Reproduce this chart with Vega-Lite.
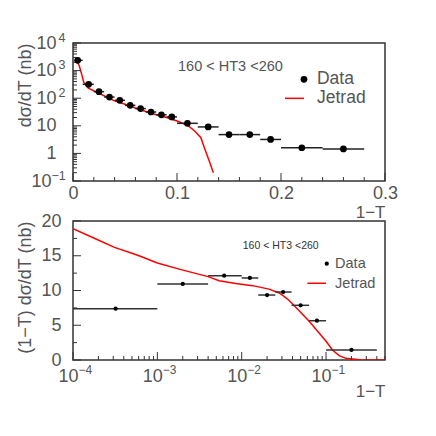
{
  "$schema": "https://vega.github.io/schema/vega-lite/v6.json",
  "background": "white",
  "padding": {"left": 15, "top": 30, "right": 0, "bottom": 0},
  "spacing": -10.5,
  "config": {
    "font": "Liberation Sans",
    "view": {"stroke": "#333", "strokeWidth": 1.5},
    "axis": {
      "domain": false, "grid": false, "ticks": false, "tickSize": 0,
      "labelColor": "#555", "titleColor": "#555",
      "labelFont": "Liberation Sans", "titleFont": "Liberation Sans",
      "labelFontSize": 18, "titleFontSize": 18, "titleFontWeight": "normal",
      "labelFlush": false, "labelOverlap": false, "labelBound": false
    }
  },
  "vconcat": [
    {
      "width": 312, "height": 138,
      "resolve": {"axis": {"x": "independent", "y": "independent"}},
      "layer": [
        {
          "data": {"values": [
            {"x": 0.003, "y": 2500}, {"x": 0.006, "y": 1500}, {"x": 0.0085, "y": 700},
            {"x": 0.0103, "y": 380}, {"x": 0.0147, "y": 230}, {"x": 0.0244, "y": 155},
            {"x": 0.04, "y": 80}, {"x": 0.05, "y": 60}, {"x": 0.06, "y": 44},
            {"x": 0.07, "y": 33}, {"x": 0.08, "y": 25}, {"x": 0.09, "y": 20},
            {"x": 0.1, "y": 15}, {"x": 0.11, "y": 10.5}, {"x": 0.117, "y": 6.5},
            {"x": 0.123, "y": 3.7}, {"x": 0.1263, "y": 1.6}, {"x": 0.131, "y": 0.53},
            {"x": 0.135, "y": 0.2}
          ]},
          "mark": {"type": "line", "color": "#ff0000", "strokeWidth": 1.5, "clip": true},
          "encoding": {
            "x": {"field": "x", "type": "quantitative",
              "scale": {"domain": [0, 0.3], "nice": false, "zero": false},
              "axis": {
                "orient": "bottom",
                "title": "1−T", "titleFontSize": 17, "titleX": 312, "titleY": 31,
                "titleAlign": "right", "titleBaseline": "middle", "titleAngle": 0,
                "values": [0, 0.1, 0.2, 0.3],
                "labelExpr": "datum.value==0 ? '0' : format(datum.value,'.1f')",
                "labelPadding": 12, "labelBaseline": "middle",
                "labelOverlap": false, "labelFlush": false
              }},
            "y": {"field": "y", "type": "quantitative",
              "scale": {"type": "log", "domain": [0.1, 10000], "nice": false},
              "axis": {
                "orient": "left",
                "title": "dσ/dT (nb)", "titleX": -48, "titleY": 0, "titleAngle": 270,
                "titleAlign": "right", "titleBaseline": "middle",
                "values": [0.1, 1, 10, 100, 1000, 10000],
                "labelExpr": "datum.value==1 ? '1' : '10'",
                "labelAlign": "right", "labelBaseline": "middle",
                "labelPadding": {"condition": {"test": "datum.value < 0.5", "value": 22}, "value": 17},
                "labelOverlap": false
              }}
          }
        },
        {
          "data": {"values": [{"lo": 0.2038, "hi": 0.2221, "y": 99}]},
          "mark": {"type": "rule", "color": "#ff0000", "strokeWidth": 1.5},
          "encoding": {
            "x": {"field": "lo", "type": "quantitative", "axis": null},
            "x2": {"field": "hi"},
            "y": {"field": "y", "type": "quantitative", "axis": null}
          }
        },
        {
          "data": {"values": [{"x": 0.2221, "y": 484}]},
          "mark": {"type": "point", "filled": true, "color": "#000", "size": 45, "opacity": 1},
          "encoding": {
            "x": {"field": "x", "type": "quantitative", "axis": null},
            "y": {"field": "y", "type": "quantitative",
              "axis": {"orient": "left", "title": null,
                "values": [0.1, 100, 1000, 10000],
                "labelExpr": "datum.value==10000 ? '4' : datum.value==1000 ? '3' : datum.value==100 ? '2' : '−1'",
                "labelFontSize": 12.5, "labelAlign": "left", "labelBaseline": "middle", "labelOffset": -6,
                "labelPadding": {"condition": {"test": "datum.value < 0.5", "value": 22}, "value": 15},
                "labelOverlap": false}}
          }
        },
        {
          "data": {"values": [{"v": 0}, {"v": 0.1}, {"v": 0.2}, {"v": 0.3}]},
          "mark": {"type": "tick", "orient": "vertical", "size": 8, "thickness": 1, "color": "#333", "opacity": 1, "yOffset": -4},
          "encoding": {"x": {"field": "v", "type": "quantitative", "axis": null}, "y": {"datum": 0.1, "type": "quantitative", "axis": null}}
        },
        {
          "data": {"values": [{"v": 0.02}, {"v": 0.04}, {"v": 0.06}, {"v": 0.08}, {"v": 0.12}, {"v": 0.14}, {"v": 0.16}, {"v": 0.18}, {"v": 0.22}, {"v": 0.24}, {"v": 0.26}, {"v": 0.28}]},
          "mark": {"type": "tick", "orient": "vertical", "size": 4, "thickness": 1, "color": "#333", "opacity": 1, "yOffset": -2},
          "encoding": {"x": {"field": "v", "type": "quantitative", "axis": null}, "y": {"datum": 0.1, "type": "quantitative", "axis": null}}
        },
        {
          "data": {"values": [{"v": 0.1}, {"v": 1}, {"v": 10}, {"v": 100}, {"v": 1000}, {"v": 10000}]},
          "mark": {"type": "tick", "orient": "horizontal", "size": 8, "thickness": 1, "color": "#333", "opacity": 1, "xOffset": 4},
          "encoding": {"y": {"field": "v", "type": "quantitative", "axis": null}, "x": {"datum": 0, "type": "quantitative", "axis": null}}
        },
        {
          "data": {"values": [{"v": 0.2}, {"v": 0.3}, {"v": 0.4}, {"v": 0.5}, {"v": 0.6}, {"v": 0.7}, {"v": 0.8}, {"v": 0.9}, {"v": 2}, {"v": 3}, {"v": 4}, {"v": 5}, {"v": 6}, {"v": 7}, {"v": 8}, {"v": 9}, {"v": 20}, {"v": 30}, {"v": 40}, {"v": 50}, {"v": 60}, {"v": 70}, {"v": 80}, {"v": 90}, {"v": 200}, {"v": 300}, {"v": 400}, {"v": 500}, {"v": 600}, {"v": 700}, {"v": 800}, {"v": 900}, {"v": 2000}, {"v": 3000}, {"v": 4000}, {"v": 5000}, {"v": 6000}, {"v": 7000}, {"v": 8000}, {"v": 9000}]},
          "mark": {"type": "tick", "orient": "horizontal", "size": 4, "thickness": 1, "color": "#333", "opacity": 1, "xOffset": 2},
          "encoding": {"y": {"field": "v", "type": "quantitative", "axis": null}, "x": {"datum": 0, "type": "quantitative", "axis": null}}
        },
        {
          "data": {"values": [
            {"x": 0.0045, "lo": 0.0013, "hi": 0.0093, "y": 2350},
            {"x": 0.015, "lo": 0.0093, "hi": 0.02, "y": 318},
            {"x": 0.025, "lo": 0.02, "hi": 0.03, "y": 172},
            {"x": 0.035, "lo": 0.03, "hi": 0.04, "y": 110},
            {"x": 0.045, "lo": 0.04, "hi": 0.05, "y": 84},
            {"x": 0.055, "lo": 0.05, "hi": 0.06, "y": 55},
            {"x": 0.065, "lo": 0.06, "hi": 0.07, "y": 42},
            {"x": 0.075, "lo": 0.07, "hi": 0.08, "y": 31.6},
            {"x": 0.085, "lo": 0.08, "hi": 0.09, "y": 25},
            {"x": 0.095, "lo": 0.09, "hi": 0.1, "y": 21},
            {"x": 0.11, "lo": 0.1, "hi": 0.12, "y": 12.3},
            {"x": 0.13, "lo": 0.12, "hi": 0.14, "y": 9.1},
            {"x": 0.15, "lo": 0.14, "hi": 0.16, "y": 4.8},
            {"x": 0.17, "lo": 0.16, "hi": 0.18, "y": 4.8},
            {"x": 0.19, "lo": 0.18, "hi": 0.2, "y": 3.2},
            {"x": 0.22, "lo": 0.2, "hi": 0.24, "y": 1.6},
            {"x": 0.26, "lo": 0.24, "hi": 0.28, "y": 1.45}
          ]},
          "layer": [
            {"mark": {"type": "rule", "color": "#222", "strokeWidth": 1.5},
             "encoding": {"x": {"field": "lo", "type": "quantitative", "axis": null}, "x2": {"field": "hi"}, "y": {"field": "y", "type": "quantitative", "axis": null}}},
            {"mark": {"type": "point", "filled": true, "color": "#000", "size": 45, "opacity": 1},
             "encoding": {"x": {"field": "x", "type": "quantitative", "axis": null}, "y": {"field": "y", "type": "quantitative", "axis": null}}}
          ]
        },
        {
          "data": {"values": [{"x": 0.101, "y": 1380, "t": "160 < HT3 <260"}]},
          "mark": {"type": "text", "align": "left", "baseline": "middle", "fontSize": 14.5, "color": "#555"},
          "encoding": {"x": {"field": "x", "type": "quantitative", "axis": null}, "y": {"field": "y", "type": "quantitative", "axis": null}, "text": {"field": "t"}}
        },
        {
          "data": {"values": [{"x": 0.2346, "y": 484, "t": "Data"}, {"x": 0.2346, "y": 100, "t": "Jetrad"}]},
          "mark": {"type": "text", "align": "left", "baseline": "middle", "fontSize": 17.5, "color": "#555"},
          "encoding": {"x": {"field": "x", "type": "quantitative", "axis": null}, "y": {"field": "y", "type": "quantitative", "axis": null}, "text": {"field": "t"}}
        }
      ]
    },
    {
      "width": 312, "height": 139,
      "resolve": {"axis": {"x": "independent", "y": "independent"}},
      "layer": [
        {
          "data": {"values": [
            {"x": 0.0001, "y": 18.9}, {"x": 0.000196, "y": 17.3}, {"x": 0.00031, "y": 16.2},
            {"x": 0.00049, "y": 15.4}, {"x": 0.00064, "y": 14.9}, {"x": 0.001, "y": 13.95},
            {"x": 0.00191, "y": 13.0}, {"x": 0.004, "y": 12.0}, {"x": 0.0054, "y": 11.4},
            {"x": 0.0085, "y": 11.0}, {"x": 0.0135, "y": 10.7}, {"x": 0.0211, "y": 10.2},
            {"x": 0.0278, "y": 9.64}, {"x": 0.0318, "y": 9.16}, {"x": 0.0363, "y": 8.6},
            {"x": 0.048, "y": 7.1}, {"x": 0.063, "y": 5.57}, {"x": 0.0828, "y": 3.88},
            {"x": 0.1, "y": 2.7}, {"x": 0.12, "y": 1.4}, {"x": 0.143, "y": 0.62},
            {"x": 0.172, "y": 0.24}, {"x": 0.25, "y": 0.04}, {"x": 0.5, "y": 0}
          ]},
          "mark": {"type": "line", "color": "#ff0000", "strokeWidth": 1.5, "clip": true},
          "encoding": {
            "x": {"field": "x", "type": "quantitative",
              "scale": {"type": "log", "domain": [0.0001, 0.5], "nice": false},
              "axis": {
                "orient": "bottom",
                "title": "1−T", "titleFontSize": 17, "titleX": 312, "titleY": 31,
                "titleAlign": "right", "titleBaseline": "middle", "titleAngle": 0,
                "values": [0.0001, 0.001, 0.01, 0.1],
                "labelExpr": "'10'",
                "labelPadding": 16.5, "labelBaseline": "middle", "labelOffset": -5,
                "labelOverlap": false, "labelFlush": false
              }},
            "y": {"field": "y", "type": "quantitative",
              "scale": {"domain": [0, 20], "nice": false},
              "axis": {
                "orient": "left",
                "title": "(1−T) dσ/dT (nb)", "titleX": -48, "titleY": 0, "titleAngle": 270,
                "titleAlign": "right", "titleBaseline": "middle",
                "values": [0, 5, 10, 15, 20],
                "labelPadding": 12, "labelAlign": "right", "labelBaseline": "middle",
                "labelOverlap": false
              }}
          }
        },
        {
          "data": {"values": [{"lo": 0.0601, "hi": 0.1, "y": 11.04}]},
          "mark": {"type": "rule", "color": "#ff0000", "strokeWidth": 1.5},
          "encoding": {
            "x": {"field": "lo", "type": "quantitative", "axis": null},
            "x2": {"field": "hi"},
            "y": {"field": "y", "type": "quantitative", "axis": null}
          }
        },
        {
          "data": {"values": [{"x": 0.102, "y": 13.86}]},
          "mark": {"type": "point", "filled": true, "color": "#000", "size": 18, "opacity": 1},
          "encoding": {
            "x": {"field": "x", "type": "quantitative",
              "axis": {"orient": "bottom", "title": null,
                "values": [0.0001, 0.001, 0.01, 0.1],
                "labelExpr": "datum.value==0.0001 ? '−4' : datum.value==0.001 ? '−3' : datum.value==0.01 ? '−2' : '−1'",
                "labelFontSize": 12, "labelAlign": "left", "labelBaseline": "middle",
                "labelOffset": 5, "labelPadding": 9, "labelOverlap": false, "labelFlush": false}},
            "y": {"field": "y", "type": "quantitative", "axis": null}
          }
        },
        {
          "data": {"values": [{"v": 0.0001}, {"v": 0.001}, {"v": 0.01}, {"v": 0.1}]},
          "mark": {"type": "tick", "orient": "vertical", "size": 8, "thickness": 1, "color": "#333", "opacity": 1, "yOffset": -4},
          "encoding": {"x": {"field": "v", "type": "quantitative", "axis": null}, "y": {"datum": 0, "type": "quantitative", "axis": null}}
        },
        {
          "data": {"values": [{"v": 0.0002}, {"v": 0.0003}, {"v": 0.0004}, {"v": 0.0005}, {"v": 0.0006}, {"v": 0.0007}, {"v": 0.0008}, {"v": 0.0009}, {"v": 0.002}, {"v": 0.003}, {"v": 0.004}, {"v": 0.005}, {"v": 0.006}, {"v": 0.007}, {"v": 0.008}, {"v": 0.009}, {"v": 0.02}, {"v": 0.03}, {"v": 0.04}, {"v": 0.05}, {"v": 0.06}, {"v": 0.07}, {"v": 0.08}, {"v": 0.09}, {"v": 0.2}, {"v": 0.3}, {"v": 0.4}, {"v": 0.5}]},
          "mark": {"type": "tick", "orient": "vertical", "size": 4, "thickness": 1, "color": "#333", "opacity": 1, "yOffset": -2},
          "encoding": {"x": {"field": "v", "type": "quantitative", "axis": null}, "y": {"datum": 0, "type": "quantitative", "axis": null}}
        },
        {
          "data": {"values": [{"v": 0}, {"v": 5}, {"v": 10}, {"v": 15}, {"v": 20}]},
          "mark": {"type": "tick", "orient": "horizontal", "size": 8, "thickness": 1, "color": "#333", "opacity": 1, "xOffset": 4},
          "encoding": {"y": {"field": "v", "type": "quantitative", "axis": null}, "x": {"datum": 0.0001, "type": "quantitative", "axis": null}}
        },
        {
          "data": {"values": [{"v": 2.5}, {"v": 7.5}, {"v": 12.5}, {"v": 17.5}]},
          "mark": {"type": "tick", "orient": "horizontal", "size": 4, "thickness": 1, "color": "#333", "opacity": 1, "xOffset": 2},
          "encoding": {"y": {"field": "v", "type": "quantitative", "axis": null}, "x": {"datum": 0.0001, "type": "quantitative", "axis": null}}
        },
        {
          "data": {"values": [
            {"x": 0.00032, "lo": 0.0001, "hi": 0.001, "y": 7.38},
            {"x": 0.002, "lo": 0.001, "hi": 0.004, "y": 10.94},
            {"x": 0.0062, "lo": 0.004, "hi": 0.01, "y": 12.13},
            {"x": 0.0125, "lo": 0.01, "hi": 0.0157, "y": 11.8},
            {"x": 0.02, "lo": 0.0157, "hi": 0.025, "y": 9.35},
            {"x": 0.031, "lo": 0.025, "hi": 0.039, "y": 9.78},
            {"x": 0.05, "lo": 0.039, "hi": 0.063, "y": 7.87},
            {"x": 0.078, "lo": 0.063, "hi": 0.1, "y": 5.65},
            {"x": 0.2, "lo": 0.1, "hi": 0.4, "y": 1.44}
          ]},
          "layer": [
            {"mark": {"type": "rule", "color": "#333", "strokeWidth": 1.5},
             "encoding": {"x": {"field": "lo", "type": "quantitative", "axis": null}, "x2": {"field": "hi"}, "y": {"field": "y", "type": "quantitative", "axis": null}}},
            {"mark": {"type": "point", "filled": true, "color": "#000", "size": 18, "opacity": 1},
             "encoding": {"x": {"field": "x", "type": "quantitative", "axis": null}, "y": {"field": "y", "type": "quantitative", "axis": null}}}
          ]
        },
        {
          "data": {"values": [{"x": 0.0103, "y": 16.36, "t": "160 < HT3 <260"}]},
          "mark": {"type": "text", "align": "left", "baseline": "middle", "fontSize": 10.5, "color": "#333"},
          "encoding": {"x": {"field": "x", "type": "quantitative", "axis": null}, "y": {"field": "y", "type": "quantitative", "axis": null}, "text": {"field": "t"}}
        },
        {
          "data": {"values": [{"x": 0.128, "y": 13.86, "t": "Data"}, {"x": 0.128, "y": 10.94, "t": "Jetrad"}]},
          "mark": {"type": "text", "align": "left", "baseline": "middle", "fontSize": 14.5, "color": "#555"},
          "encoding": {"x": {"field": "x", "type": "quantitative", "axis": null}, "y": {"field": "y", "type": "quantitative", "axis": null}, "text": {"field": "t"}}
        }
      ]
    }
  ]
}
